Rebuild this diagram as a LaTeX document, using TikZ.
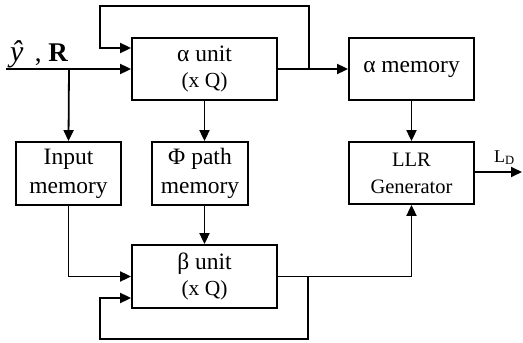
\documentclass[tikz,border=0pt]{standalone}
\usepackage{fontspec}
\setmainfont{Liberation Serif}
\usetikzlibrary{arrows.meta,calc}
\begin{document}
\begin{tikzpicture}[x=1pt,y=-1pt,
  blk/.style={draw,line width=1.8pt,inner sep=0pt,align=center,
    font=\fontsize{23.5}{29}\selectfont},
  unitbox/.style={blk,font=\fontsize{23.5}{26}\selectfont},
  sml/.style={font=\fontsize{20.5}{27}\selectfont},
  wire/.style={line width=1.8pt},
  arr/.style={wire,-{Triangle[length=11pt,width=10pt]}},
  lbl/.style={inner sep=0pt}]
\useasboundingbox (0,0) rectangle (523,343);
% blocks
\node[unitbox,minimum width=145pt,minimum height=62pt] (au) at (204.5,69)
  {α unit\\{\fontsize{21.5}{21.5}\selectfont (x Q)}};
\node[blk,minimum width=125pt,minimum height=62pt] (am) at (411.5,69) {α memory};
\node[blk,minimum width=105pt,minimum height=63pt] (im) at (68.5,173.5) {Input\\memory};
\node[blk,minimum width=96pt,minimum height=63pt] (pm) at (200,173.5) {Φ path\\memory};
\node[blk,sml,minimum width=125pt,minimum height=62pt] (llr) at (411.5,173) {LLR\\Generator};
\node[unitbox,minimum width=145pt,minimum height=63pt] (bu) at (204.5,276.5)
  {β unit\\{\fontsize{21.5}{21.5}\selectfont (x Q)}};
% labels
\node[lbl,anchor=base west,font=\fontsize{27}{30}\selectfont] (yin) at (10,61)
  {{\fontsize{30}{30}\selectfont\textit{ŷ}}\, , \textbf{R}};
\node[lbl,anchor=base west,font=\fontsize{18}{20}\selectfont] (ld) at (494,162) {L\textsubscript{D}};
% free ends and taps
\coordinate (src) at (6,69);
\coordinate (tapIn) at (69,69);
\coordinate (tapA) at (309,69);
\coordinate (tapB) at (308,276.5);
\coordinate (sink) at (522,172);
% input path
\draw[arr] (src) -- (au.west);
\draw[arr] (tapIn) -- (im.north);
% alpha unit
\draw[arr] (au.east) -- (am.west);
\draw[arr] (tapA) -- (309,6) -- (100,6) |- ($(au.west)+(0,-21)$);
\draw[arr] (au.south) -- (au.south |- pm.north);
% memories
\draw[arr] (am.south) -- (llr.north);
\draw[arr] (bu.north |- pm.south) -- (bu.north);
\draw[arr] (im.south) |- (bu.west);
% beta unit
\draw[arr] (bu.east) -| (llr.south);
\draw[arr] (tapB) -- (308,339) -- (100,339) |- ($(bu.west)+(0,21.5)$);
% output
\draw[arr] (llr.east |- sink) -- (sink);
\end{tikzpicture}
\end{document}
